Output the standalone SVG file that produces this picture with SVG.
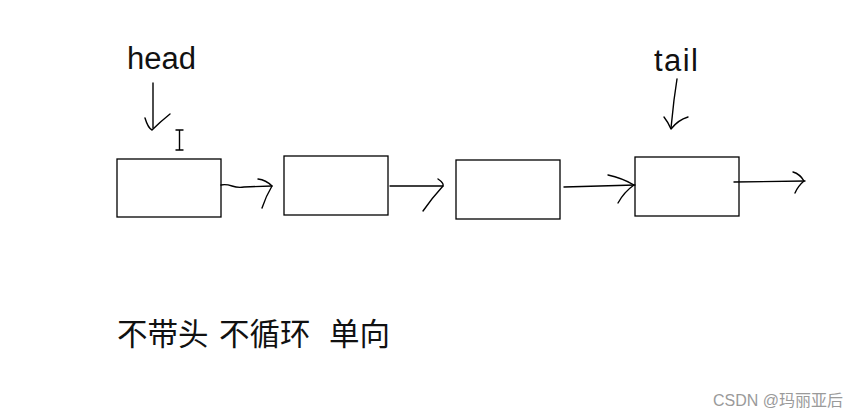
<svg xmlns="http://www.w3.org/2000/svg" width="865" height="417" viewBox="0 0 865 417">
<style>
.box{fill:#fff;stroke:#000;stroke-width:1.3}
.ln{fill:none;stroke:#000;stroke-width:1.4;stroke-linecap:round;stroke-linejoin:round}
.lbl{font-family:"Liberation Sans","Noto Sans",sans-serif;font-size:31px;fill:#111}
.cn{font-family:"Noto Sans CJK SC",sans-serif;font-size:30.5px;fill:#111}
.wm{font-family:"Liberation Sans","Noto Sans CJK SC",sans-serif;font-size:16px;fill:#9a9a9a}
</style>
<rect width="865" height="417" fill="#fff"/>
<g id="label-head"><text class="lbl" x="127" y="69">head</text></g>
<g id="label-tail"><text class="lbl" x="654" y="71" textLength="44">tail</text></g>
<g id="node1"><rect class="box" x="117" y="159" width="104" height="58"/></g>
<g id="node2"><rect class="box" x="284" y="156" width="104" height="59"/></g>
<g id="node3"><rect class="box" x="456" y="160" width="104" height="59"/></g>
<g id="node4"><rect class="box" x="635" y="157" width="104" height="59"/></g>
<g id="connectors">
<path class="ln" d="M153 83 L153 128"/>
<path class="ln" d="M145 118 Q148 128 152 130 Q160 122 170 114"/>
<path class="ln" d="M677 79 L674 100 L671 128"/>
<path class="ln" d="M664 117 Q668 122 671 129 Q678 120 688 117"/>
<path class="ln" d="M221 185 Q226 184 232 186 Q238 188 244 187 L272 186"/>
<path class="ln" d="M258 179 Q266 180 272 186 Q266 196 262 208"/>
<path class="ln" d="M390 186 L443 186"/>
<path class="ln" d="M438 179 Q444 183 443 186 Q432 198 423 211"/>
<path class="ln" d="M564 187 L635 185"/>
<path class="ln" d="M608 175 Q622 178 634 185 Q624 192 618 203"/>
<path class="ln" d="M734 182 L805 181"/>
<path class="ln" d="M793 172 Q800 174 804 181 Q798 186 795 193"/>
</g>
<g id="cursor"><path class="ln" d="M176 130 L183 130 M179.5 130 L179.5 150 M176 150 L183 150" stroke-width="1.2" stroke="#333"/></g>
<g id="caption">
<text class="cn" x="117" y="345">不带头</text>
<text class="cn" x="219" y="345">不循环</text>
<text class="cn" x="329" y="345">单向</text>
</g>
<g id="watermark"><text class="wm" x="713" y="406">CSDN @玛丽亚后</text></g>
</svg>
